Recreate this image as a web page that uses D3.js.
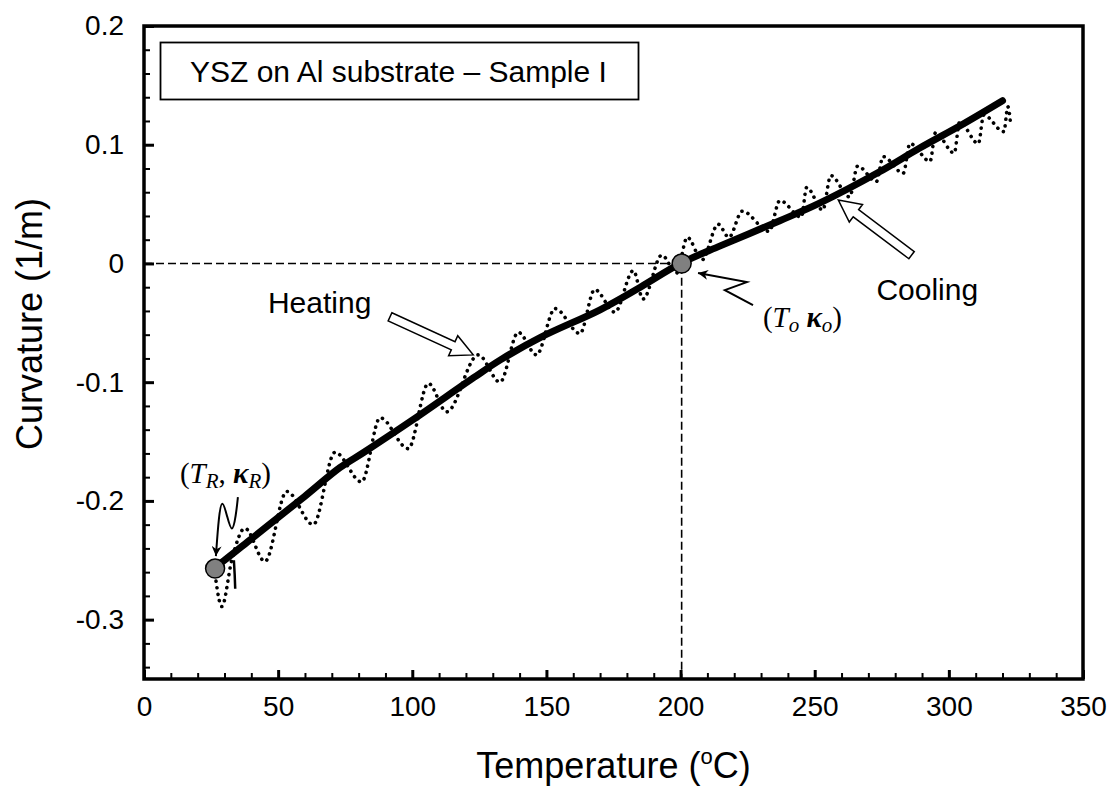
<!DOCTYPE html>
<html>
<head>
<meta charset="utf-8">
<script src="https://cdn.jsdelivr.net/npm/d3@7"></script>
<style>
  body { margin: 0; background: #fff; }
  svg { display: block; }
</style>
</head>
<body>
<svg id="chart" width="1120" height="787"></svg>
<script>
// Cooling curve (solid line), temperature in C, curvature in 1/m
const coolT = [27, 30, 40, 50, 60, 73, 82, 100, 123, 133, 148, 170, 185, 200, 215, 237, 252, 274, 289, 305, 320]
const coolK = [-0.255, -0.250, -0.232, -0.214, -0.196, -0.172, -0.159, -0.132, -0.096, -0.081, -0.062, -0.039, -0.020, 0.0, 0.015, 0.036, 0.051, 0.077, 0.097, 0.117, 0.137]

// short tail of the cooling trace near room temperature
const tailT = [33.5, 33.8, 34.0]
const tailK = [-0.250, -0.262, -0.274]

// Heating curve (dotted, oscillating)
const heatT = [26.5, 29, 32.7, 37.6, 45.1, 53.2, 63.1, 71.2, 81.1, 88, 98.5, 106, 112.8, 124.6, 132.7,
  139.5, 146.3, 153.2, 162.5, 168, 175.5, 182.4, 186, 193, 198.5, 202.5, 208, 214, 218, 223,
  233, 237, 245, 247, 253, 256, 263, 266, 273, 275.5, 283, 285.5, 293, 295, 302, 304, 311, 313, 320.5, 322, 323]
const heatK = [-0.262, -0.289, -0.25, -0.223, -0.251, -0.192, -0.220, -0.159, -0.184, -0.130, -0.156, -0.101, -0.125, -0.077, -0.100,
  -0.058, -0.077, -0.038, -0.059, -0.022, -0.041, -0.006, -0.030, 0.007, -0.008, 0.022, 0.003, 0.033, 0.022, 0.044,
  0.027, 0.053, 0.039, 0.064, 0.045, 0.074, 0.056, 0.082, 0.069, 0.090, 0.076, 0.101, 0.086, 0.110, 0.093, 0.119, 0.101, 0.125, 0.111, 0.132, 0.118]

// marked points (T_R, k_R) and (T_o, k_o)
const markT = [26.5, 200.4]
const markK = [-0.257, 0.0]

// axis ticks
const xMajor = [0, 50, 100, 150, 200, 250, 300, 350]
const yMajor = [0.2, 0.1, 0, -0.1, -0.2, -0.3]
const yLabels = ['0.2', '0.1', '0', '-0.1', '-0.2', '-0.3']

// annotation anchors in data units [T, k]
const heatArrow = [[91.7, -0.045], [122.7, -0.077]]
const coolArrow = [[286.1, 0.007], [258.8, 0.0534]]
const zigO = [[206.5, -0.008], [224.7, -0.0157], [216.5, -0.0224], [227, -0.035]]
const zigR = [[35.0, -0.1968], [34.3, -0.212], [32.8, -0.2288], [30.9, -0.212], [29.1, -0.1977], [27.9, -0.212], [26.8, -0.2465]]

const svg = d3.select('#chart')
const x = d3.scaleLinear().domain([0, 350]).range([144, 1083])
const y = d3.scaleLinear().domain([-0.35, 0.2]).range([679, 26])
const sans = 'Liberation Sans, Arial, sans-serif'
const serif = 'Liberation Serif, Times New Roman, serif'

// minor ticks
const xMinor = d3.range(0, 351, 10).filter(d => d % 50 !== 0)
const yMinor = d3.range(-0.34, 0.2, 0.02).filter(d => Math.abs(Math.round(d * 100) % 10) !== 0)

svg.append('g')
  .attr('transform', `translate(0,${y(-0.35)})`)
  .call(d3.axisBottom(x).tickValues(xMinor).tickSize(-6).tickFormat(''))
  .call(g => g.select('.domain').remove())
  .selectAll('line').attr('stroke-width', 2)

svg.append('g')
  .attr('transform', `translate(0,${y(-0.35)})`)
  .call(d3.axisBottom(x).tickValues(xMajor).tickSize(-9).tickPadding(17).tickFormat(d => d))
  .call(g => g.select('.domain').remove())
  .call(g => g.selectAll('line').attr('stroke-width', 3))
  .call(g => g.selectAll('text').attr('font-family', sans).attr('font-size', 28).attr('fill', '#000'))

svg.append('g')
  .attr('transform', `translate(${x(0)},0)`)
  .call(d3.axisLeft(y).tickValues(yMinor).tickSize(-6).tickFormat(''))
  .call(g => g.select('.domain').remove())
  .selectAll('line').attr('stroke-width', 2)

svg.append('g')
  .attr('transform', `translate(${x(0)},0)`)
  .call(d3.axisLeft(y).tickValues(yMajor).tickSize(-10).tickPadding(20).tickFormat((d, i) => yLabels[i]))
  .call(g => g.select('.domain').remove())
  .call(g => g.selectAll('line').attr('stroke-width', 3))
  .call(g => g.selectAll('text').attr('font-family', sans).attr('font-size', 28).attr('fill', '#000'))

// plot frame
svg.append('rect')
  .attr('x', x(0)).attr('y', y(0.2))
  .attr('width', x(350) - x(0)).attr('height', y(-0.35) - y(0.2))
  .attr('fill', 'none').attr('stroke', '#000').attr('stroke-width', 3.5)

// dashed guide lines to (T_o, k_o)
svg.append('path')
  .attr('d', d3.line()([[x(0), y(0)], [x(markT[1]), y(0)], [x(markT[1]), y(-0.35)]]))
  .attr('fill', 'none').attr('stroke', '#000').attr('stroke-width', 1.6).attr('stroke-dasharray', '8,4')

// heating curve
svg.append('path')
  .datum(heatT.map((t, i) => [t, heatK[i]]))
  .attr('d', d3.line().x(d => x(d[0])).y(d => y(d[1])).curve(d3.curveMonotoneX))
  .attr('fill', 'none').attr('stroke', '#000').attr('stroke-width', 3.6)
  .attr('stroke-linecap', 'round').attr('stroke-dasharray', '0.1,6.5')

// cooling curve
svg.append('path')
  .datum(coolT.map((t, i) => [t, coolK[i]]))
  .attr('d', d3.line().x(d => x(d[0])).y(d => y(d[1])).curve(d3.curveCatmullRom))
  .attr('fill', 'none').attr('stroke', '#000').attr('stroke-width', 7).attr('stroke-linecap', 'round')

svg.append('path')
  .datum(tailT.map((t, i) => [t, tailK[i]]))
  .attr('d', d3.line().x(d => x(d[0])).y(d => y(d[1])))
  .attr('fill', 'none').attr('stroke', '#000').attr('stroke-width', 2.5)

// marked points
svg.selectAll('circle.mark')
  .data(markT.map((t, i) => [t, markK[i]]))
  .enter().append('circle')
  .attr('class', 'mark')
  .attr('cx', d => x(d[0])).attr('cy', d => y(d[1])).attr('r', 9.5)
  .attr('fill', '#808080').attr('stroke', '#000').attr('stroke-width', 1.5)

// hollow block arrows
function blockArrow (pts) {
  const [x1, y1] = [x(pts[0][0]), y(pts[0][1])]
  const [x2, y2] = [x(pts[1][0]), y(pts[1][1])]
  const len = Math.hypot(x2 - x1, y2 - y1)
  const ang = Math.atan2(y2 - y1, x2 - x1) * 180 / Math.PI
  const hw = 4.5, hh = 11, hl = 22
  const poly = [[0, -hw], [len - hl, -hw], [len - hl, -hh], [len, 0], [len - hl, hh], [len - hl, hw], [0, hw]]
  svg.append('path')
    .attr('d', d3.line()(poly) + 'Z')
    .attr('transform', `translate(${x1},${y1}) rotate(${ang})`)
    .attr('fill', '#fff').attr('stroke', '#000').attr('stroke-width', 1.5)
}
blockArrow(heatArrow)
blockArrow(coolArrow)

// squiggle pointer arrows
svg.append('defs').append('marker')
  .attr('id', 'head').attr('viewBox', '0 0 10 10').attr('refX', 10).attr('refY', 5)
  .attr('markerWidth', 14).attr('markerHeight', 10).attr('markerUnits', 'userSpaceOnUse')
  .attr('orient', 'auto')
  .append('path').attr('d', 'M0,0 L10,5 L0,10 L3,5 Z').attr('fill', '#000')

svg.append('path')
  .datum(zigO.slice().reverse())
  .attr('d', d3.line().x(d => x(d[0])).y(d => y(d[1])))
  .attr('fill', 'none').attr('stroke', '#000').attr('stroke-width', 2)
  .attr('marker-end', 'url(#head)')

svg.append('path')
  .datum(zigR)
  .attr('d', d3.line().x(d => x(d[0])).y(d => y(d[1])).curve(d3.curveBasis))
  .attr('fill', 'none').attr('stroke', '#000').attr('stroke-width', 2)
  .attr('marker-end', 'url(#head)')

// text labels
svg.append('rect')
  .attr('x', 160.5).attr('y', 42.5).attr('width', 478).attr('height', 57)
  .attr('fill', '#fff').attr('stroke', '#000').attr('stroke-width', 1.8)
svg.append('text')
  .attr('x', 190).attr('y', 82)
  .attr('font-family', sans).attr('font-size', 30)
  .text('YSZ on Al substrate \u2013 Sample I')

svg.append('text')
  .attr('x', x(46.2)).attr('y', y(-0.0418))
  .attr('font-family', sans).attr('font-size', 30)
  .text('Heating')

svg.append('text')
  .attr('x', x(273)).attr('y', y(-0.031))
  .attr('font-family', sans).attr('font-size', 30)
  .text('Cooling')

function pointLabel (px, py, sub, comma) {
  const t = svg.append('text')
    .attr('x', x(px)).attr('y', y(py))
    .attr('font-family', serif).attr('font-size', 29)
  t.append('tspan').text('(')
  t.append('tspan').attr('font-style', 'italic').text('T')
  t.append('tspan').attr('font-style', 'italic').attr('font-size', 21).attr('dy', 5).text(sub)
  t.append('tspan').attr('dy', -5).text(comma ? ', ' : ' ')
  t.append('tspan').attr('font-style', 'italic').attr('font-weight', 'bold').text('\u03BA')
  t.append('tspan').attr('font-style', 'italic').attr('font-size', 21).attr('dy', 5).text(sub)
  t.append('tspan').attr('dy', -5).text(')')
}
pointLabel(13.4, -0.185, 'R', true)
pointLabel(230.7, -0.0533, 'o', false)

// axis titles
const xt = svg.append('text')
  .attr('x', (x(0) + x(350)) / 2).attr('y', 778)
  .attr('text-anchor', 'middle')
  .attr('font-family', sans).attr('font-size', 36)
xt.append('tspan').text('Temperature (')
xt.append('tspan').attr('font-size', 22).attr('dy', -14).text('o')
xt.append('tspan').attr('dy', 14).text('C)')

svg.append('text')
  .attr('transform', 'translate(42,324) rotate(-90)')
  .attr('text-anchor', 'middle')
  .attr('font-family', sans).attr('font-size', 36)
  .text('Curvature (1/m)')
</script>
</body>
</html>
